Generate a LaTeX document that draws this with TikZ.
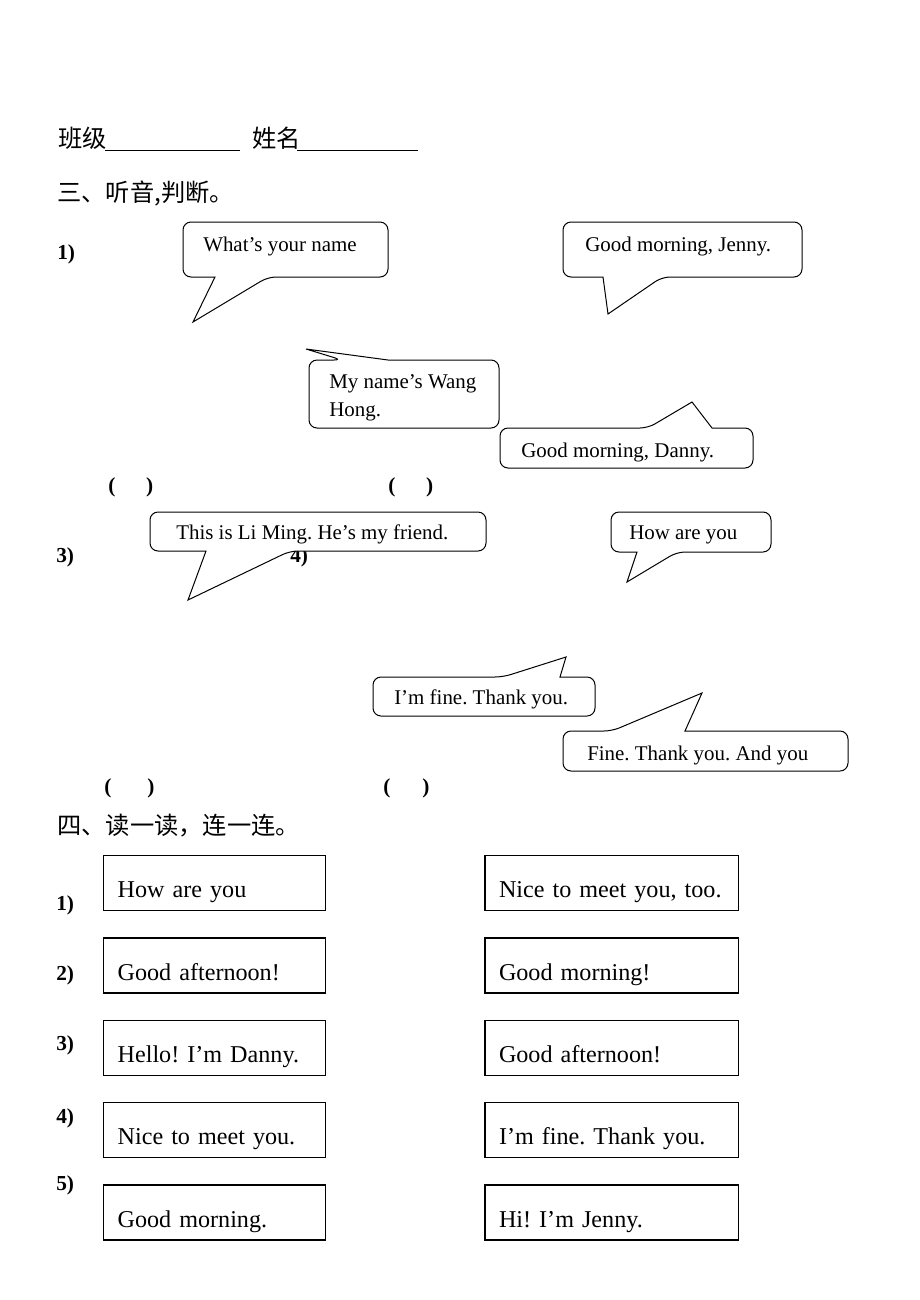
\documentclass[tikz,border=0pt]{standalone}
\usepackage{fontspec}
\setmainfont{Liberation Serif}
\newfontfamily\cjk{Noto Sans CJK SC}
\usetikzlibrary{positioning}
\frenchspacing

\begin{document}
\begin{tikzpicture}[
    x=0.75pt, y=-0.75pt,
    node distance=19.5pt and 118.5pt,
    bubble/.style={draw, line width=0.75pt, fill=white, rounded corners=6pt},
    saying/.style={anchor=base west, inner sep=0pt, align=left,
                   font=\fontsize{15.7}{21}\selectfont},
    numtag/.style={anchor=base west, inner sep=0pt, font=\fontsize{16}{19}\selectfont\bfseries},
    heading/.style={anchor=base west, inner sep=0pt, font=\fontsize{18.2}{21}\selectfont\cjk},
    answer/.style={draw, line width=1pt, inner ysep=0pt, inner xsep=10.5pt,
                   text height=31.5pt, text depth=9.75pt, align=left, text width=#1,
                   font=\fontsize{18.1}{22}\selectfont},
    blank/.style={line width=0.75pt},
]
    % Page
    \fill[white] (0,0) rectangle (920,1300);
    \useasboundingbox (0,0) rectangle (920,1300);

    % Class and name
    \node[heading] (cls) at (58,147) {班级};
    \node[heading] (nam) at (252,147) {姓名};
    \draw[blank] (105,150) -- (240,150);
    \draw[blank] (297,150) -- (418,150);

    % Part three
    \node[heading] (p3) at (57,201) {三、听音,判断。};
    \node[numtag] (n1) at (57,259) {1)};
    \node[numtag] (n3) at (56,562) {3)};
    \node[numtag] (n4) at (290,562) {4)};
    \node[numtag] (k1) at (108,492) {(\hspace{23pt})};
    \node[numtag] (k2) at (388,492) {(\hspace{23pt})};
    \node[numtag] (k3) at (104,793) {(\hspace{27pt})};
    \node[numtag] (k4) at (383,793) {(\hspace{24pt})};

    % Speech bubbles, picture 1
    \draw[bubble] (285,222) -- (388,222) -- (388,277) -- (268,277) [sharp corners]
        -- (193,322) -- (215,277) [rounded corners=6pt] -- (183,277) -- (183,222) -- cycle;
    \node[saying] (s1) at (203,251) {What's your name};
    \draw[bubble] (680,222) -- (802,222) -- (802,277) -- (662,277) [sharp corners]
        -- (608,314) -- (603,277) [rounded corners=6pt] -- (563,277) -- (563,222) -- cycle;
    \node[saying] (s2) at (585,251) {Good morning, Jenny.};

    % Speech bubbles, picture 2
    \draw[bubble] (309,394) -- (309,360) -- (342,360) [sharp corners]
        -- (306,349) -- (388,360) [rounded corners=6pt] -- (499,360) -- (499,428) -- (309,428) -- cycle;
    \node[saying] (s3) at (329,416) {My name's Wang\\Hong.};
    \draw[bubble] (500,448) -- (500,428) -- (648,428) [sharp corners]
        -- (692,402) -- (712,428) [rounded corners=6pt] -- (753,428) -- (753,468) -- (500,468) -- cycle;
    \node[saying] (s4) at (521,457) {Good morning, Danny.};

    % Speech bubbles, picture 3
    \draw[bubble] (320,512) -- (486,512) -- (486,551) -- (290,551) [sharp corners]
        -- (188,600) -- (206,551) [rounded corners=6pt] -- (150,551) -- (150,512) -- cycle;
    \node[saying] (s5) at (176,539) {This is Li Ming. He's my friend.};
    \draw[bubble] (690,512) -- (771,512) -- (771,552) -- (677,552) [sharp corners]
        -- (627,582) -- (637,552) [rounded corners=6pt] -- (611,552) -- (611,512) -- cycle;
    \node[saying] (s6) at (629,539) {How are you};

    % Speech bubbles, picture 4
    \draw[bubble] (373,697) -- (373,677) -- (503,677) [sharp corners]
        -- (566,657) -- (560,677) [rounded corners=6pt] -- (595,677) -- (595,716) -- (373,716) -- cycle;
    \node[saying] (s7) at (394,704) {I'm fine. Thank you.};
    \draw[bubble] (563,751) -- (563,731) -- (612,731) [sharp corners]
        -- (702,693) -- (685,731) [rounded corners=6pt] -- (848,731) -- (848,771) -- (563,771) -- cycle;
    \node[saying] (s8) at (587,760) {Fine. Thank you. And you};

    % Part four
    \node[heading] (p4) at (57,834) {四、读一读，连一连。};
    \node[numtag] (m1) at (56,910) {1)};
    \node[numtag] (m2) at (56,980) {2)};
    \node[numtag] (m3) at (56,1050) {3)};
    \node[numtag] (m4) at (56,1123) {4)};
    \node[numtag] (m5) at (56,1190) {5)};

    % Left column
    \node[answer=145.5pt, anchor=north west] (q1) at (103,855) {How are you};
    \node[answer=145.5pt, below=of q1] (q2) {Good afternoon!};
    \node[answer=145.5pt, below=of q2] (q3) {Hello! I'm Danny.};
    \node[answer=145.5pt, below=of q3] (q4) {Nice to meet you.};
    \node[answer=145.5pt, below=of q4] (q5) {Good morning.};

    % Right column
    \node[answer=169pt, right=of q1] (a1) {Nice to meet you, too.};
    \node[answer=169pt, right=of q2] (a2) {Good morning!};
    \node[answer=169pt, right=of q3] (a3) {Good afternoon!};
    \node[answer=169pt, right=of q4] (a4) {I'm fine. Thank you.};
    \node[answer=169pt, right=of q5] (a5) {Hi! I'm Jenny.};
\end{tikzpicture}
\end{document}
